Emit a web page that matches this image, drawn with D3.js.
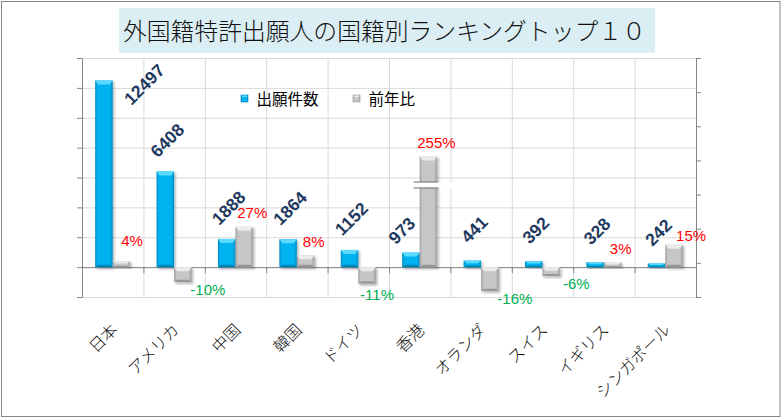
<!DOCTYPE html>
<html lang="ja">
<head>
    <meta charset="utf-8">
    <title>外国籍特許出願人の国籍別ランキング</title>
    <script src="https://d3js.org/d3.v7.min.js"></script>
    <style>
        body { margin: 0; background: white; }
        svg { display: block; }
        .axis path, .axis line { stroke: #868686; }
        .grid line { stroke: #D9D9D9; }
        .grid path { display: none; }
    </style>
</head>
<body>
    <div id="chart"></div>
    <script>
        // data
        const countries = ["日本", "アメリカ", "中国", "韓国", "ドイツ", "香港", "オランダ", "スイス", "イギリス", "シンガポール"];
        const filings = [12497, 6408, 1888, 1864, 1152, 973, 441, 392, 328, 242];
        const yoyPct = [4, -10, 27, 8, -11, 255, -16, -6, 3, 15];
        const seriesNames = ["出願件数", "前年比"];
        const countTicks = [-2000, 0, 2000, 4000, 6000, 8000, 10000, 12000, 14000];
        const chartTitle = "外国籍特許出願人の国籍別ランキングトップ１０";

        const width = 782, height = 419;
        const plot = {left: 82, right: 696, top: 58, bottom: 297};
        const jpFont = "'Noto Sans CJK JP', sans-serif";
        const numFont = "'Liberation Sans', Arial, sans-serif";

        const svg = d3.select("#chart").append("svg")
            .attr("width", width)
            .attr("height", height);

        const defs = svg.append("defs");

        // gradients for the bevelled bars
        function hGrad(id, edge, mid) {
            const g = defs.append("linearGradient").attr("id", id)
                .attr("x1", 0).attr("x2", 1).attr("y1", 0).attr("y2", 0);
            g.append("stop").attr("offset", 0).attr("stop-color", edge);
            g.append("stop").attr("offset", 0.14).attr("stop-color", mid);
            g.append("stop").attr("offset", 0.82).attr("stop-color", mid);
            g.append("stop").attr("offset", 1).attr("stop-color", edge);
        }
        hGrad("blueGrad", "#0690C4", "#00B2F0");
        hGrad("grayGrad", "#9E9E9E", "#C6C6C6");

        const shadow = defs.append("filter").attr("id", "shadow")
            .attr("x", "-30%").attr("y", "-30%").attr("width", "160%").attr("height", "160%");
        shadow.append("feDropShadow")
            .attr("dx", 1.5).attr("dy", 1.8).attr("stdDeviation", 1.3)
            .attr("flood-color", "#000").attr("flood-opacity", 0.3);

        const palettes = {
            blue: {fill: "url(#blueGrad)", cap: "#5ADAFF", base: "#0482B2"},
            gray: {fill: "url(#grayGrad)", cap: "#EBEBEB", base: "#979797"}
        };

        // outer frame
        svg.append("rect")
            .attr("x", 1.5).attr("y", 1.5)
            .attr("width", 778.5).attr("height", 415)
            .attr("fill", "white")
            .attr("stroke", "#868686");

        // title
        svg.append("rect")
            .attr("x", 119).attr("y", 8)
            .attr("width", 536).attr("height", 45)
            .attr("fill", "#DBEEF4");
        svg.append("text")
            .attr("x", 123).attr("y", 40)
            .attr("font-family", jpFont)
            .attr("font-weight", 300)
            .attr("font-size", "23.8px")
            .attr("fill", "#111")
            .text(chartTitle);

        // scales
        const x = d3.scaleBand()
            .domain(countries)
            .range([plot.left, plot.right]);

        const xEdge = d3.scaleLinear()
            .domain([0, countries.length])
            .range([plot.left, plot.right]);

        const yCount = d3.scaleLinear()
            .domain([-2000, 14000])
            .range([plot.bottom, plot.top]);

        const yPct = d3.scaleLinear()
            .domain([-20, 140])
            .range([plot.bottom, plot.top]);

        // right axis has 7 even steps
        const pctTicks = d3.range(8).map(i => -20 + i * 160 / 7);

        // grid
        svg.append("g")
            .attr("class", "grid")
            .attr("transform", `translate(${plot.left},0)`)
            .call(d3.axisLeft(yCount).tickValues(countTicks).tickFormat("")
                .tickSize(-(plot.right - plot.left)));

        svg.append("g")
            .attr("class", "grid")
            .attr("transform", `translate(0,${plot.bottom})`)
            .call(d3.axisBottom(xEdge).ticks(countries.length).tickFormat("")
                .tickSize(-(plot.bottom - plot.top)));

        // axes
        svg.append("g")
            .attr("class", "axis")
            .attr("transform", `translate(${plot.left},0)`)
            .call(d3.axisLeft(yCount).tickValues(countTicks).tickFormat("")
                .tickSize(5).tickSizeOuter(0));

        svg.append("g")
            .attr("class", "axis")
            .attr("transform", `translate(${plot.right},0)`)
            .call(d3.axisRight(yPct).tickValues(pctTicks).tickFormat("")
                .tickSize(5).tickSizeOuter(0));

        svg.append("g")
            .attr("class", "axis")
            .attr("transform", `translate(0,${yCount(0)})`)
            .call(d3.axisBottom(xEdge).ticks(countries.length).tickFormat("")
                .tickSize(6).tickSizeOuter(0));

        // bars
        const barW = x.bandwidth() / 3.5;
        const pctCap = 74;          // tall bar is cut off with a break
        const breakLo = 53, breakHi = 57;

        function drawBar(g, x0, w, y0, y1, pal) {
            const top = Math.min(y0, y1), bot = Math.max(y0, y1);
            const h = bot - top;
            const c = Math.min(4, h / 2.5), s = Math.min(3, w / 4);
            const bar = g.append("g").attr("filter", "url(#shadow)");
            bar.append("rect")
                .attr("x", x0).attr("y", top)
                .attr("width", w).attr("height", h)
                .attr("fill", pal.fill);
            bar.append("polygon")
                .attr("points", [[x0, top], [x0 + w, top], [x0 + w - s, top + c], [x0 + s, top + c]].join(" "))
                .attr("fill", pal.cap);
            bar.append("polygon")
                .attr("points", [[x0, bot], [x0 + s, bot - c * 0.6], [x0 + w - s, bot - c * 0.6], [x0 + w, bot]].join(" "))
                .attr("fill", pal.base);
        }

        const bars = svg.append("g").attr("class", "bars");
        countries.forEach((c, i) => {
            const bx = x(c) + barW * 0.75;
            drawBar(bars, bx, barW, yCount(0), yCount(filings[i]), palettes.blue);
            drawBar(bars, bx + barW, barW, yPct(0), yPct(Math.min(yoyPct[i], pctCap)), palettes.gray);
        });

        // axis break on the capped bar
        countries.forEach((c, i) => {
            if (yoyPct[i] <= pctCap) return;
            const gx = x(c) + barW * 1.75;
            svg.append("rect")
                .attr("x", gx - 6).attr("y", yPct(breakHi))
                .attr("width", barW + 21).attr("height", yPct(breakLo) - yPct(breakHi))
                .attr("fill", "white");
            [breakHi, breakLo].forEach(v => {
                svg.append("line")
                    .attr("x1", gx - 6).attr("x2", gx + barW + 1)
                    .attr("y1", yPct(v)).attr("y2", yPct(v))
                    .attr("stroke", "#7F7F7F").attr("stroke-width", 1.2);
            });
        });

        // count labels (rotated), a couple moved by hand in the original
        const countNudge = {"日本": [40.5, 4], "香港": [-9, -22]};
        countries.forEach((c, i) => {
            const cx = x(c) + barW * 1.25;
            const off = countNudge[c] || [2, -31];
            const lx = cx + off[0], ly = yCount(filings[i]) + off[1];
            svg.append("text")
                .attr("transform", `translate(${lx},${ly}) rotate(-45)`)
                .attr("text-anchor", "middle")
                .attr("dominant-baseline", "central")
                .attr("font-family", numFont)
                .attr("font-weight", "bold")
                .attr("font-size", "17.5px")
                .attr("fill", "#1F3A60")
                .text(filings[i]);
        });

        // percent labels
        const pctNudge = {"日本": [2.5, -7], "ドイツ": [-15, 4], "シンガポール": [9, 5]};
        countries.forEach((c, i) => {
            const v = yoyPct[i];
            const cx = x(c) + barW * 2.25;
            const n = pctNudge[c] || [0, 0];
            const lx = (v >= 0 ? cx + 8 : cx + 25) + n[0];
            const ly = (v >= 0 ? yPct(Math.min(v, pctCap)) - 14 : yPct(v) + 7) + n[1];
            svg.append("text")
                .attr("x", lx).attr("y", ly)
                .attr("text-anchor", "middle")
                .attr("dominant-baseline", "central")
                .attr("font-family", numFont)
                .attr("font-size", "15px")
                .attr("fill", v >= 0 ? "#FF0000" : "#00B050")
                .text(v + "%");
        });

        // category labels
        svg.append("g")
            .selectAll("text")
            .data(countries)
            .enter()
            .append("text")
                .attr("transform", d => `translate(${x(d) + x.bandwidth() / 2 + 1},326) rotate(-45)`)
                .attr("text-anchor", "end")
                .attr("dominant-baseline", "central")
                .attr("font-family", jpFont)
                .attr("font-weight", 300)
                .attr("font-size", "16px")
                .attr("fill", "#111")
                .text(d => d);

        // legend
        const legend = svg.append("g").attr("class", "legend");
        const legendX = [241, 353];
        seriesNames.forEach((name, i) => {
            const pal = i === 0 ? palettes.blue : palettes.gray;
            legend.append("rect")
                .attr("x", legendX[i]).attr("y", 95)
                .attr("width", 7).attr("height", 7)
                .attr("fill", pal.fill)
                .attr("stroke", pal.base).attr("stroke-width", 0.6);
            legend.append("rect")
                .attr("x", legendX[i] + 1).attr("y", 95.5)
                .attr("width", 5).attr("height", 1.6)
                .attr("fill", pal.cap);
            legend.append("text")
                .attr("x", legendX[i] + 15.5).attr("y", 105)
                .attr("font-family", jpFont)
                .attr("font-size", "15.5px")
                .attr("fill", "#000")
                .text(name);
        });
    </script>
</body>
</html>
